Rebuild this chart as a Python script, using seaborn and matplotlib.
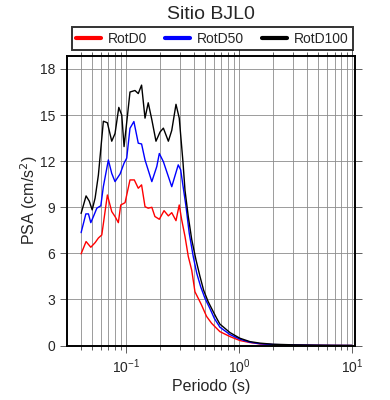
import numpy as np
import pandas as pd
import matplotlib.pyplot as plt
import seaborn as sns
from matplotlib.ticker import LogLocator, MultipleLocator, NullFormatter

# periods (s) and PSA (cm/s^2)
per_d100 = [0.0403, 0.0446, 0.0476, 0.0505, 0.0536, 0.0573, 0.0634, 0.0688, 0.0752, 0.0804,
            0.0868, 0.0922, 0.0966, 0.1033, 0.109, 0.1206, 0.129, 0.138, 0.148, 0.158,
            0.170, 0.185, 0.201, 0.215, 0.238, 0.255, 0.278, 0.297, 0.320, 0.334,
            0.357, 0.383, 0.417, 0.453, 0.488, 0.535, 0.594, 0.636, 0.679, 0.833,
            1.02, 1.25, 1.535, 2.0, 3.0, 4.0, 5.0, 7.0, 10.0]
psa_d100 = [8.6, 9.74, 9.4, 8.83, 9.6, 11.1, 14.6, 14.5, 13.3, 13.8,
            15.5, 15.0, 12.95, 14.9, 16.5, 16.6, 16.4, 16.95, 14.8, 15.8,
            14.7, 13.3, 13.9, 14.15, 13.3, 14.0, 15.7, 14.8, 12.0, 10.1,
            8.4, 6.9, 5.6, 4.5, 3.6, 2.86, 2.2, 1.78, 1.4, 0.85,
            0.48, 0.26, 0.16, 0.09, 0.05, 0.035, 0.025, 0.015, 0.01]

per_d50 = [0.0403, 0.0444, 0.0468, 0.0491, 0.0518, 0.0555, 0.0602, 0.0634, 0.0702, 0.0752,
           0.0804, 0.0891, 0.0966, 0.102, 0.109, 0.118, 0.129, 0.138, 0.148, 0.170,
           0.188, 0.198, 0.215, 0.255, 0.291, 0.306, 0.318, 0.341, 0.364, 0.395,
           0.424, 0.459, 0.501, 0.553, 0.606, 0.679, 0.833, 1.02, 1.25, 1.535,
           2.0, 3.0, 4.0, 5.0, 7.0, 10.0]
psa_d50 = [7.35, 8.57, 8.57, 8.0, 8.4, 8.94, 9.1, 10.35, 12.08, 11.2,
           10.67, 11.17, 11.87, 12.2, 14.14, 14.58, 13.17, 13.12, 12.08, 10.67,
           11.65, 12.5, 11.97, 10.34, 11.76, 11.43, 10.57, 9.04, 7.31, 5.79,
           4.71, 3.84, 3.08, 2.43, 1.78, 1.2, 0.72, 0.42, 0.22, 0.12,
           0.07, 0.04, 0.03, 0.02, 0.012, 0.008]

per_d0 = [0.0403, 0.0446, 0.0491, 0.0536, 0.0573, 0.0614, 0.0688, 0.0752, 0.0804, 0.0860,
          0.0903, 0.0986, 0.109, 0.119, 0.129, 0.138, 0.148, 0.158, 0.170, 0.181,
          0.198, 0.218, 0.238, 0.255, 0.278, 0.297, 0.312, 0.334, 0.357, 0.383,
          0.409, 0.437, 0.467, 0.518, 0.574, 0.679, 0.833, 1.02, 1.25, 1.535,
          2.0, 3.0, 4.0, 5.0, 7.0, 10.0]
psa_d0 = [5.97, 6.77, 6.4, 6.7, 7.0, 7.2, 9.8, 8.72, 8.4, 8.0,
          9.15, 9.3, 10.78, 10.78, 10.24, 10.46, 9.04, 8.94, 9.0, 8.4,
          8.22, 8.78, 8.44, 8.65, 8.13, 9.15, 8.2, 7.1, 5.8, 4.9,
          3.5, 3.08, 2.65, 1.9, 1.45, 0.91, 0.59, 0.33, 0.2, 0.11,
          0.06, 0.035, 0.025, 0.018, 0.01, 0.006]

series = ["RotD0", "RotD50", "RotD100"]
colors = ["red", "blue", "black"]

df = pd.concat([
    pd.DataFrame({"Periodo": per_d0, "PSA": psa_d0, "comp": "RotD0"}),
    pd.DataFrame({"Periodo": per_d50, "PSA": psa_d50, "comp": "RotD50"}),
    pd.DataFrame({"Periodo": per_d100, "PSA": psa_d100, "comp": "RotD100"}),
])

sns.set_style("ticks")
plt.rcParams['font.family'] = ['Liberation Sans', 'DejaVu Sans']

fig = plt.figure(figsize=(3.9, 4.0), dpi=100)
ax = fig.add_axes([0.172, 0.136, 0.738, 0.725])

sns.lineplot(data=df, x="Periodo", y="PSA", hue="comp", hue_order=series,
             palette=colors, linewidth=1.0, ax=ax, legend=False)

ax.set_xscale("log")
ax.set_xlim(0.0303, 10.6)
ax.set_ylim(0, 18.87)
ax.yaxis.set_major_locator(MultipleLocator(3))
ax.xaxis.set_major_locator(LogLocator(base=10))
ax.xaxis.set_minor_locator(LogLocator(base=10, subs=np.arange(2, 10)))
ax.xaxis.set_minor_formatter(NullFormatter())

ax.grid(True, which="both", axis="x", color="#8c8c8c", linewidth=0.6)
ax.grid(True, which="major", axis="y", color="#8c8c8c", linewidth=0.6)
for s in ax.spines.values():
    s.set_linewidth(1.4)
    s.set_color("black")

ax.tick_params(which="both", direction="out", top=True, right=True,
               labelsize=10, width=0.6, color="#444444")
ax.tick_params(which="major", length=5)
ax.tick_params(which="minor", length=3)

ax.set_xlabel("Periodo (s)", fontsize=11.5, labelpad=2)
ax.set_ylabel("PSA (cm/s$^2$)", fontsize=11.5, labelpad=0)
ax.set_title("Sitio BJL0", fontsize=14, pad=26)

handles = [plt.Line2D([], [], color=c, linewidth=3) for c in colors]
leg = ax.legend(handles, series, ncol=3, loc="lower center",
                bbox_to_anchor=(0.505, 1.02), fontsize=10,
                frameon=True, fancybox=False, handlelength=1.8,
                handletextpad=0.5, borderaxespad=0, borderpad=0.3,
                columnspacing=1.3)
leg.get_frame().set_edgecolor("black")
leg.get_frame().set_linewidth(1.4)

fig.savefig("out.png", dpi=100)
